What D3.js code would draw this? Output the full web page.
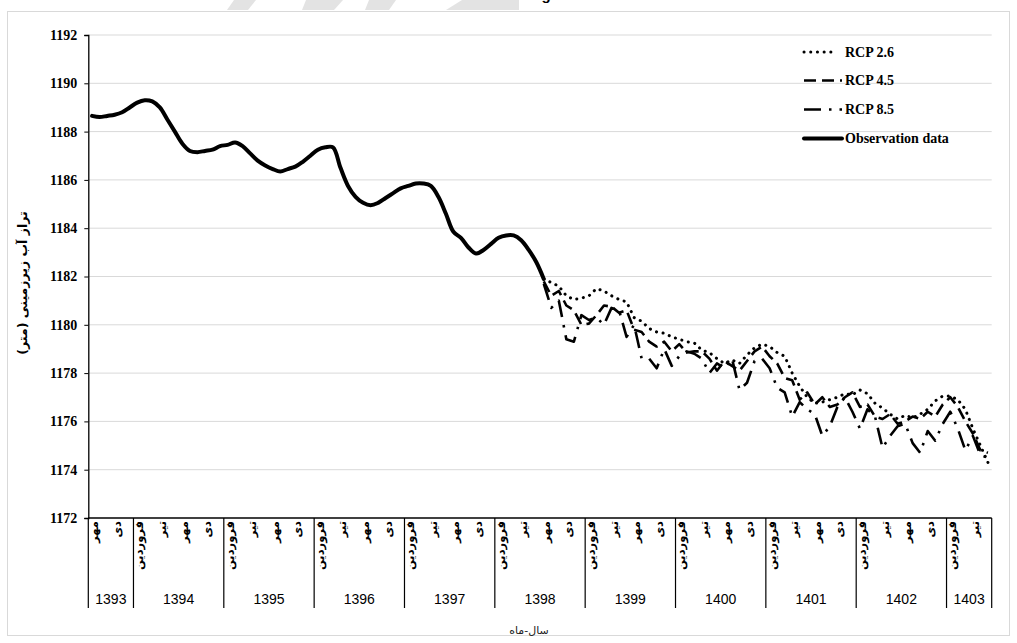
<!DOCTYPE html>
<html>
<head>
<meta charset="utf-8">
<script src="https://cdn.jsdelivr.net/npm/d3@7"></script>
<style>
  body { margin: 0; background: #fff; }
  .grid line { stroke: #d9d9d9; stroke-width: 1; }
  .ytick text { font-family: "Liberation Serif", serif; font-weight: bold; font-size: 14px; fill: #000; }
  .legend text { font-family: "Liberation Serif", serif; font-weight: bold; font-size: 14px; fill: #000; }
  .month { font-family: "DejaVu Sans", sans-serif; font-size: 11.5px; font-weight: bold; fill: #000; }
  .year { font-family: "Liberation Sans", Arial, sans-serif; font-size: 14px; fill: #000; }
</style>
</head>
<body>
<div id="chart"></div>
<script>
// category axis: Persian years, first year starts at month 7 (مهر)
const years = ["1393", "1394", "1395", "1396", "1397", "1398", "1399", "1400", "1401", "1402", "1403"];
const monthsInYear = [6, 12, 12, 12, 12, 12, 12, 12, 12, 12, 6];
const startMonth = 7;
const monthNames = ["فروردین", "اردیبهشت", "خرداد", "تیر", "مرداد", "شهریور",
                    "مهر", "آبان", "آذر", "دی", "بهمن", "اسفند"];
const yTicks = [1172, 1174, 1176, 1178, 1180, 1182, 1184, 1186, 1188, 1190, 1192];

// observed level, monthly from 1393 مهر
const observation = [
  1188.65, 1188.6, 1188.65, 1188.7, 1188.8, 1189.0, 1189.2, 1189.3, 1189.25, 1189.0,
  1188.5, 1188.0, 1187.5, 1187.2, 1187.15, 1187.2, 1187.25, 1187.4, 1187.45, 1187.55,
  1187.4, 1187.1, 1186.8, 1186.6, 1186.45, 1186.35, 1186.45, 1186.55, 1186.75, 1187.0,
  1187.25, 1187.35, 1187.35, 1186.5, 1185.75, 1185.3, 1185.05, 1184.95, 1185.05, 1185.25,
  1185.45, 1185.65, 1185.75, 1185.85, 1185.85, 1185.75, 1185.3, 1184.6, 1183.85, 1183.6,
  1183.2, 1182.95, 1183.1, 1183.35, 1183.6, 1183.7, 1183.7, 1183.5, 1183.1, 1182.6,
  1181.9
];

// scenarios start where observation ends (category 60)
const scenarioStart = 60;
const rcp26 = [
  1181.9, 1181.75, 1181.6, 1181.2, 1181.05, 1181.1, 1181.2, 1181.5, 1181.4, 1181.2,
  1181.05, 1180.95, 1180.3, 1180.15, 1179.85, 1179.7, 1179.65, 1179.5, 1179.4, 1179.3,
  1179.25, 1178.95, 1178.85, 1178.6, 1178.4, 1178.55, 1178.4, 1178.75, 1179.05, 1179.2,
  1179.1, 1178.85, 1178.7, 1178.0, 1177.45, 1177.0, 1176.75, 1176.8, 1176.9, 1177.0,
  1177.15, 1177.1, 1177.3, 1177.15, 1176.75, 1176.55, 1176.3, 1176.1, 1176.25, 1176.15,
  1176.3, 1176.5, 1176.85, 1177.05, 1177.05, 1176.9, 1176.5, 1175.7, 1175.0, 1174.3
];
const rcp45 = [
  1181.8, 1181.2, 1181.4, 1180.8, 1180.6, 1180.0, 1180.05, 1180.4, 1180.8, 1180.75,
  1180.5, 1180.6, 1179.8, 1179.7, 1179.3, 1179.1, 1179.3, 1178.9, 1179.2, 1178.85,
  1178.9, 1178.9, 1178.6, 1178.1, 1178.5, 1178.3, 1178.1, 1178.5, 1178.9, 1179.1,
  1178.7, 1178.4, 1177.8, 1177.7, 1176.9, 1177.2, 1176.7, 1177.0, 1176.6, 1176.7,
  1177.0, 1177.2, 1176.6, 1176.7, 1176.2, 1176.1, 1176.3, 1175.9, 1176.0, 1176.2,
  1176.1, 1176.4, 1176.2, 1176.7, 1177.0, 1176.6, 1176.0, 1175.5, 1174.8, 1174.7
];
const rcp85 = [
  1181.7, 1180.7, 1181.0, 1179.4, 1179.3, 1180.4, 1180.2, 1180.3, 1180.0, 1180.7,
  1180.6, 1179.5, 1180.0, 1178.6, 1178.6, 1178.2, 1179.0, 1178.3, 1178.7, 1178.9,
  1178.8, 1178.6, 1178.0, 1178.4, 1178.2, 1178.6, 1177.3, 1177.6, 1178.5, 1178.6,
  1178.2, 1177.4, 1177.2, 1176.2, 1176.8, 1176.5, 1176.3, 1175.4, 1175.8, 1176.6,
  1177.0, 1176.4, 1175.7, 1176.5, 1176.2, 1174.9, 1175.4, 1175.8, 1175.9, 1175.1,
  1174.7, 1175.6, 1175.2, 1175.9, 1176.4, 1175.7, 1174.8, 1175.4, 1174.6, 1174.5
];

const seriesNames = ["RCP 2.6", "RCP 4.5", "RCP 8.5", "Observation data"];

// build category list
const categories = [];
years.forEach((yr, yi) => {
  const m0 = yi === 0 ? startMonth : 1;
  for (let k = 0; k < monthsInYear[yi]; k++) {
    const m = m0 + k;
    categories.push({ key: yr + "-" + m, year: yr, month: monthNames[m - 1] });
  }
});

const width = 1017, height = 643;
const plot = { left: 88.3, right: 991.7, top: 35, bottom: 518 };

const svg = d3.select("#chart").append("svg")
  .attr("width", width).attr("height", height);

// watermark fragments and cut-off title above the frame
const marks = [
  [[234, 0], [256, 0], [248, 10], [227, 10]],
  [[306, 0], [343, 0], [334, 10], [302, 10]],
  [[369, 0], [396, 0], [389, 10], [365, 10]],
  [[462, 0], [519, 0], [519, 10], [446, 10]]
];
svg.selectAll(".wm").data(marks).enter().append("path")
  .attr("d", d => "M" + d.join("L") + "Z").attr("fill", "#e3e3e3");
svg.append("text").attr("x", 546).attr("y", 0).attr("text-anchor", "middle")
  .style("font", "bold 15px 'Liberation Sans', sans-serif").text("g");

svg.append("rect").attr("x", 7.5).attr("y", 11.5).attr("width", 1002).attr("height", 624)
  .attr("fill", "none").attr("stroke", "#d9d9d9");

const x = d3.scalePoint().domain(categories.map(d => d.key))
  .range([plot.left, plot.right]).padding(0.5);
const step = x.step();
const y = d3.scaleLinear().domain([1172, 1192]).range([plot.bottom, plot.top]);

// gridlines
svg.append("g").attr("class", "grid")
  .selectAll("line").data(yTicks.slice(1)).enter().append("line")
  .attr("x1", plot.left).attr("x2", plot.right)
  .attr("y1", d => y(d)).attr("y2", d => y(d));

// y axis
const yAxis = svg.append("g").attr("class", "ytick")
  .attr("transform", `translate(${plot.left},0)`)
  .call(d3.axisLeft(y).tickValues(yTicks).tickSize(4).tickPadding(7).tickFormat(d3.format("d")));
yAxis.select(".domain").attr("stroke", "#000").attr("stroke-width", 1.3);
yAxis.selectAll(".tick line").attr("stroke", "#000");

// x axis line
svg.append("line").attr("x1", plot.left).attr("x2", plot.right)
  .attr("y1", plot.bottom).attr("y2", plot.bottom).attr("stroke", "#000").attr("stroke-width", 1.3);

// year separators and labels
let idx = 0;
const yearSpans = years.map((yr, yi) => {
  const a = idx, b = idx + monthsInYear[yi] - 1;
  idx += monthsInYear[yi];
  return { year: yr, x0: x(categories[a].key) - step / 2, x1: x(categories[b].key) + step / 2 };
});
const sepX = [yearSpans[0].x0].concat(yearSpans.map(d => d.x1));
svg.selectAll(".sep").data(sepX).enter().append("line")
  .attr("x1", d => d).attr("x2", d => d)
  .attr("y1", plot.bottom).attr("y2", 608)
  .attr("stroke", "#000").attr("stroke-width", 1.2);
svg.selectAll(".year").data(yearSpans).enter().append("text")
  .attr("class", "year")
  .attr("x", d => (d.x0 + d.x1) / 2).attr("y", 604)
  .attr("text-anchor", "middle").text(d => d.year);

// month labels every third category
svg.selectAll(".month").data(categories.filter((d, i) => i % 3 === 0)).enter().append("text")
  .attr("class", "month")
  .attr("transform", d => `translate(${x(d.key) + 2},521) rotate(-90)`)
  .attr("text-anchor", "end").attr("dominant-baseline", "central")
  .text(d => d.month);

// axis titles
svg.append("text").attr("x", 529).attr("y", 634).attr("text-anchor", "middle")
  .style("font", "11px 'DejaVu Sans', sans-serif").attr("fill", "#222").text("سال-ماه");
svg.append("text").attr("transform", "translate(22,283) rotate(-90)")
  .attr("text-anchor", "middle").attr("dominant-baseline", "central")
  .style("font", "bold 12.5px 'DejaVu Sans', sans-serif").text("تراز آب زیرزمینی (متر)");

// series
const styles = [
  { w: 3, dash: "0.1 6.6", cap: "round" },
  { w: 2.6, dash: "12 6", cap: "butt" },
  { w: 2.6, dash: "17 8 2.5 8", cap: "butt" },
  { w: 4, dash: null, cap: "round" }
];
const scen = [rcp26, rcp45, rcp85].map(arr =>
  arr.map((v, i) => ({ key: categories[scenarioStart + i].key, v })));
const obs = observation.map((v, i) => ({ key: categories[i].key, v }));

const line = d3.line().x(d => x(d.key)).y(d => y(d.v));
const smooth = d3.line().x(d => x(d.key)).y(d => y(d.v)).curve(d3.curveCatmullRom.alpha(0.5));

scen.forEach((s, k) => {
  svg.append("path").datum(s).attr("d", line)
    .attr("fill", "none").attr("stroke", "#000")
    .attr("stroke-width", styles[k].w)
    .attr("stroke-dasharray", styles[k].dash)
    .attr("stroke-linecap", styles[k].cap)
    .attr("stroke-linejoin", "round");
});
svg.append("path").datum(obs).attr("d", smooth)
  .attr("fill", "none").attr("stroke", "#000")
  .attr("stroke-width", styles[3].w).attr("stroke-linecap", "round").attr("stroke-linejoin", "round");

// legend
const legendY = [52, 80.5, 109.5, 138.5];
const lg = svg.append("g").attr("class", "legend");
seriesNames.forEach((name, k) => {
  lg.append("line").attr("x1", 804).attr("x2", k === 0 ? 831 : 842)
    .attr("y1", legendY[k]).attr("y2", legendY[k])
    .attr("stroke", "#000").attr("stroke-width", styles[k].w)
    .attr("stroke-dasharray", styles[k].dash)
    .attr("stroke-linecap", styles[k].cap);
  lg.append("text").attr("x", 845).attr("y", legendY[k])
    .attr("dominant-baseline", "central").text(name);
});
</script>
</body>
</html>
